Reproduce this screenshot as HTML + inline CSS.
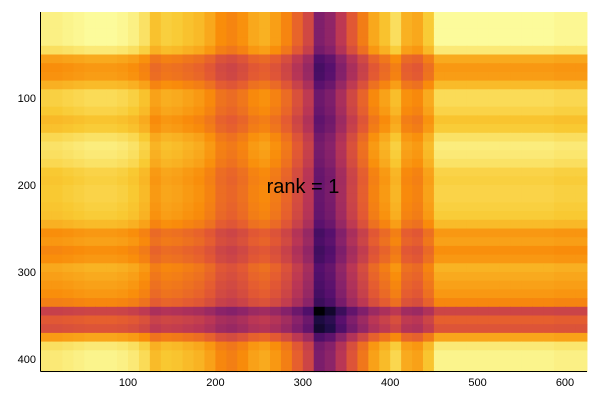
<!DOCTYPE html>
<html><head><meta charset="utf-8"><style>
html,body{margin:0;padding:0;background:#fff;}
svg{display:block;font-family:"Liberation Sans",sans-serif;}
</style></head><body>
<svg id="chart" width="600" height="400">
<g id="cells"></g>
<line x1="40.5" y1="12" x2="40.5" y2="371.5" stroke="#000" stroke-width="1"/>
<line x1="40.5" y1="371.5" x2="587" y2="371.5" stroke="#000" stroke-width="1"/>
<g id="xticks"></g>
<g id="yticks"></g>
<text x="303" y="193" font-size="20" text-anchor="middle" fill="#000">rank = 1</text>
</svg>
<script>
const colFactor=[0.92,0.92,0.93,0.94,0.95,0.95,0.95,0.94,0.92,0.88,0.8,0.83,0.82,0.8,0.78,0.74,0.68,0.66,0.69,0.74,0.76,0.72,0.66,0.58,0.5,0.33,0.36,0.45,0.55,0.64,0.74,0.8,0.87,0.76,0.74,0.82,0.95,0.95,0.95,0.95,0.95,0.95,0.95,0.95,0.95,0.95,0.95,0.94,0.94,0.94];
const rowFactor=[0.97,0.97,0.97,0.97,0.92,0.76,0.72,0.73,0.8,0.88,0.88,0.86,0.82,0.84,0.9,0.93,0.92,0.9,0.86,0.85,0.86,0.86,0.85,0.84,0.8,0.72,0.74,0.7,0.72,0.78,0.76,0.74,0.72,0.68,0.5,0.58,0.55,0.75,0.92,0.95,0.95,0.95];
const colStep=12.5, rowStep=10;
const xTicks=[100,200,300,400,500,600];
const yTicks=[100,200,300,400];
const X0=40.6,XS=0.874,Y0=11,YS=0.87;
const xs=u=>X0+u*XS, ys=u=>Y0+u*YS;
const inf=[[0,0,4],[31,12,72],[85,15,109],[136,34,106],[186,54,85],[227,89,51],[249,140,10],[249,201,50],[252,255,164]];
function cmap(t){t=Math.max(0,Math.min(1,t));const p=t*(inf.length-1),i=Math.min(Math.floor(p),inf.length-2),f=p-i;
const c=inf[i].map((v,k)=>Math.round(v+(inf[i+1][k]-v)*f));return `rgb(${c[0]},${c[1]},${c[2]})`;}
let mn=Infinity,mx=-Infinity;
rowFactor.forEach(r=>colFactor.forEach(c=>{const p=r*c;mn=Math.min(mn,p);mx=Math.max(mx,p);}));
const NS='http://www.w3.org/2000/svg',g=document.getElementById('cells');
rowFactor.forEach((r,i)=>{colFactor.forEach((c,j)=>{
const el=document.createElementNS(NS,'rect');
const x1=xs(j*colStep),x2=Math.min(xs((j+1)*colStep),587),y1=ys(i*rowStep),y2=Math.min(ys((i+1)*rowStep),371.5);
el.setAttribute('x',x1);el.setAttribute('y',Math.max(y1,12));el.setAttribute('width',x2-x1+0.6);el.setAttribute('height',y2-Math.max(y1,12)+0.6);
el.setAttribute('fill',cmap(Math.pow((r*c-mn)/(mx-mn),0.65)*0.99));


g.appendChild(el);});});
const xg=document.getElementById('xticks');
xTicks.forEach(v=>{const t=document.createElementNS(NS,'text');t.setAttribute('x',xs(v));t.setAttribute('y',386);t.setAttribute('font-size','11');t.setAttribute('text-anchor','middle');t.textContent=v;


xg.appendChild(t);});
const yg=document.getElementById('yticks');
yTicks.forEach(v=>{const t=document.createElementNS(NS,'text');t.setAttribute('x',36);t.setAttribute('y',ys(v)+4);t.setAttribute('font-size','11');t.setAttribute('text-anchor','end');t.textContent=v;


yg.appendChild(t);});
</script>
</body></html>
